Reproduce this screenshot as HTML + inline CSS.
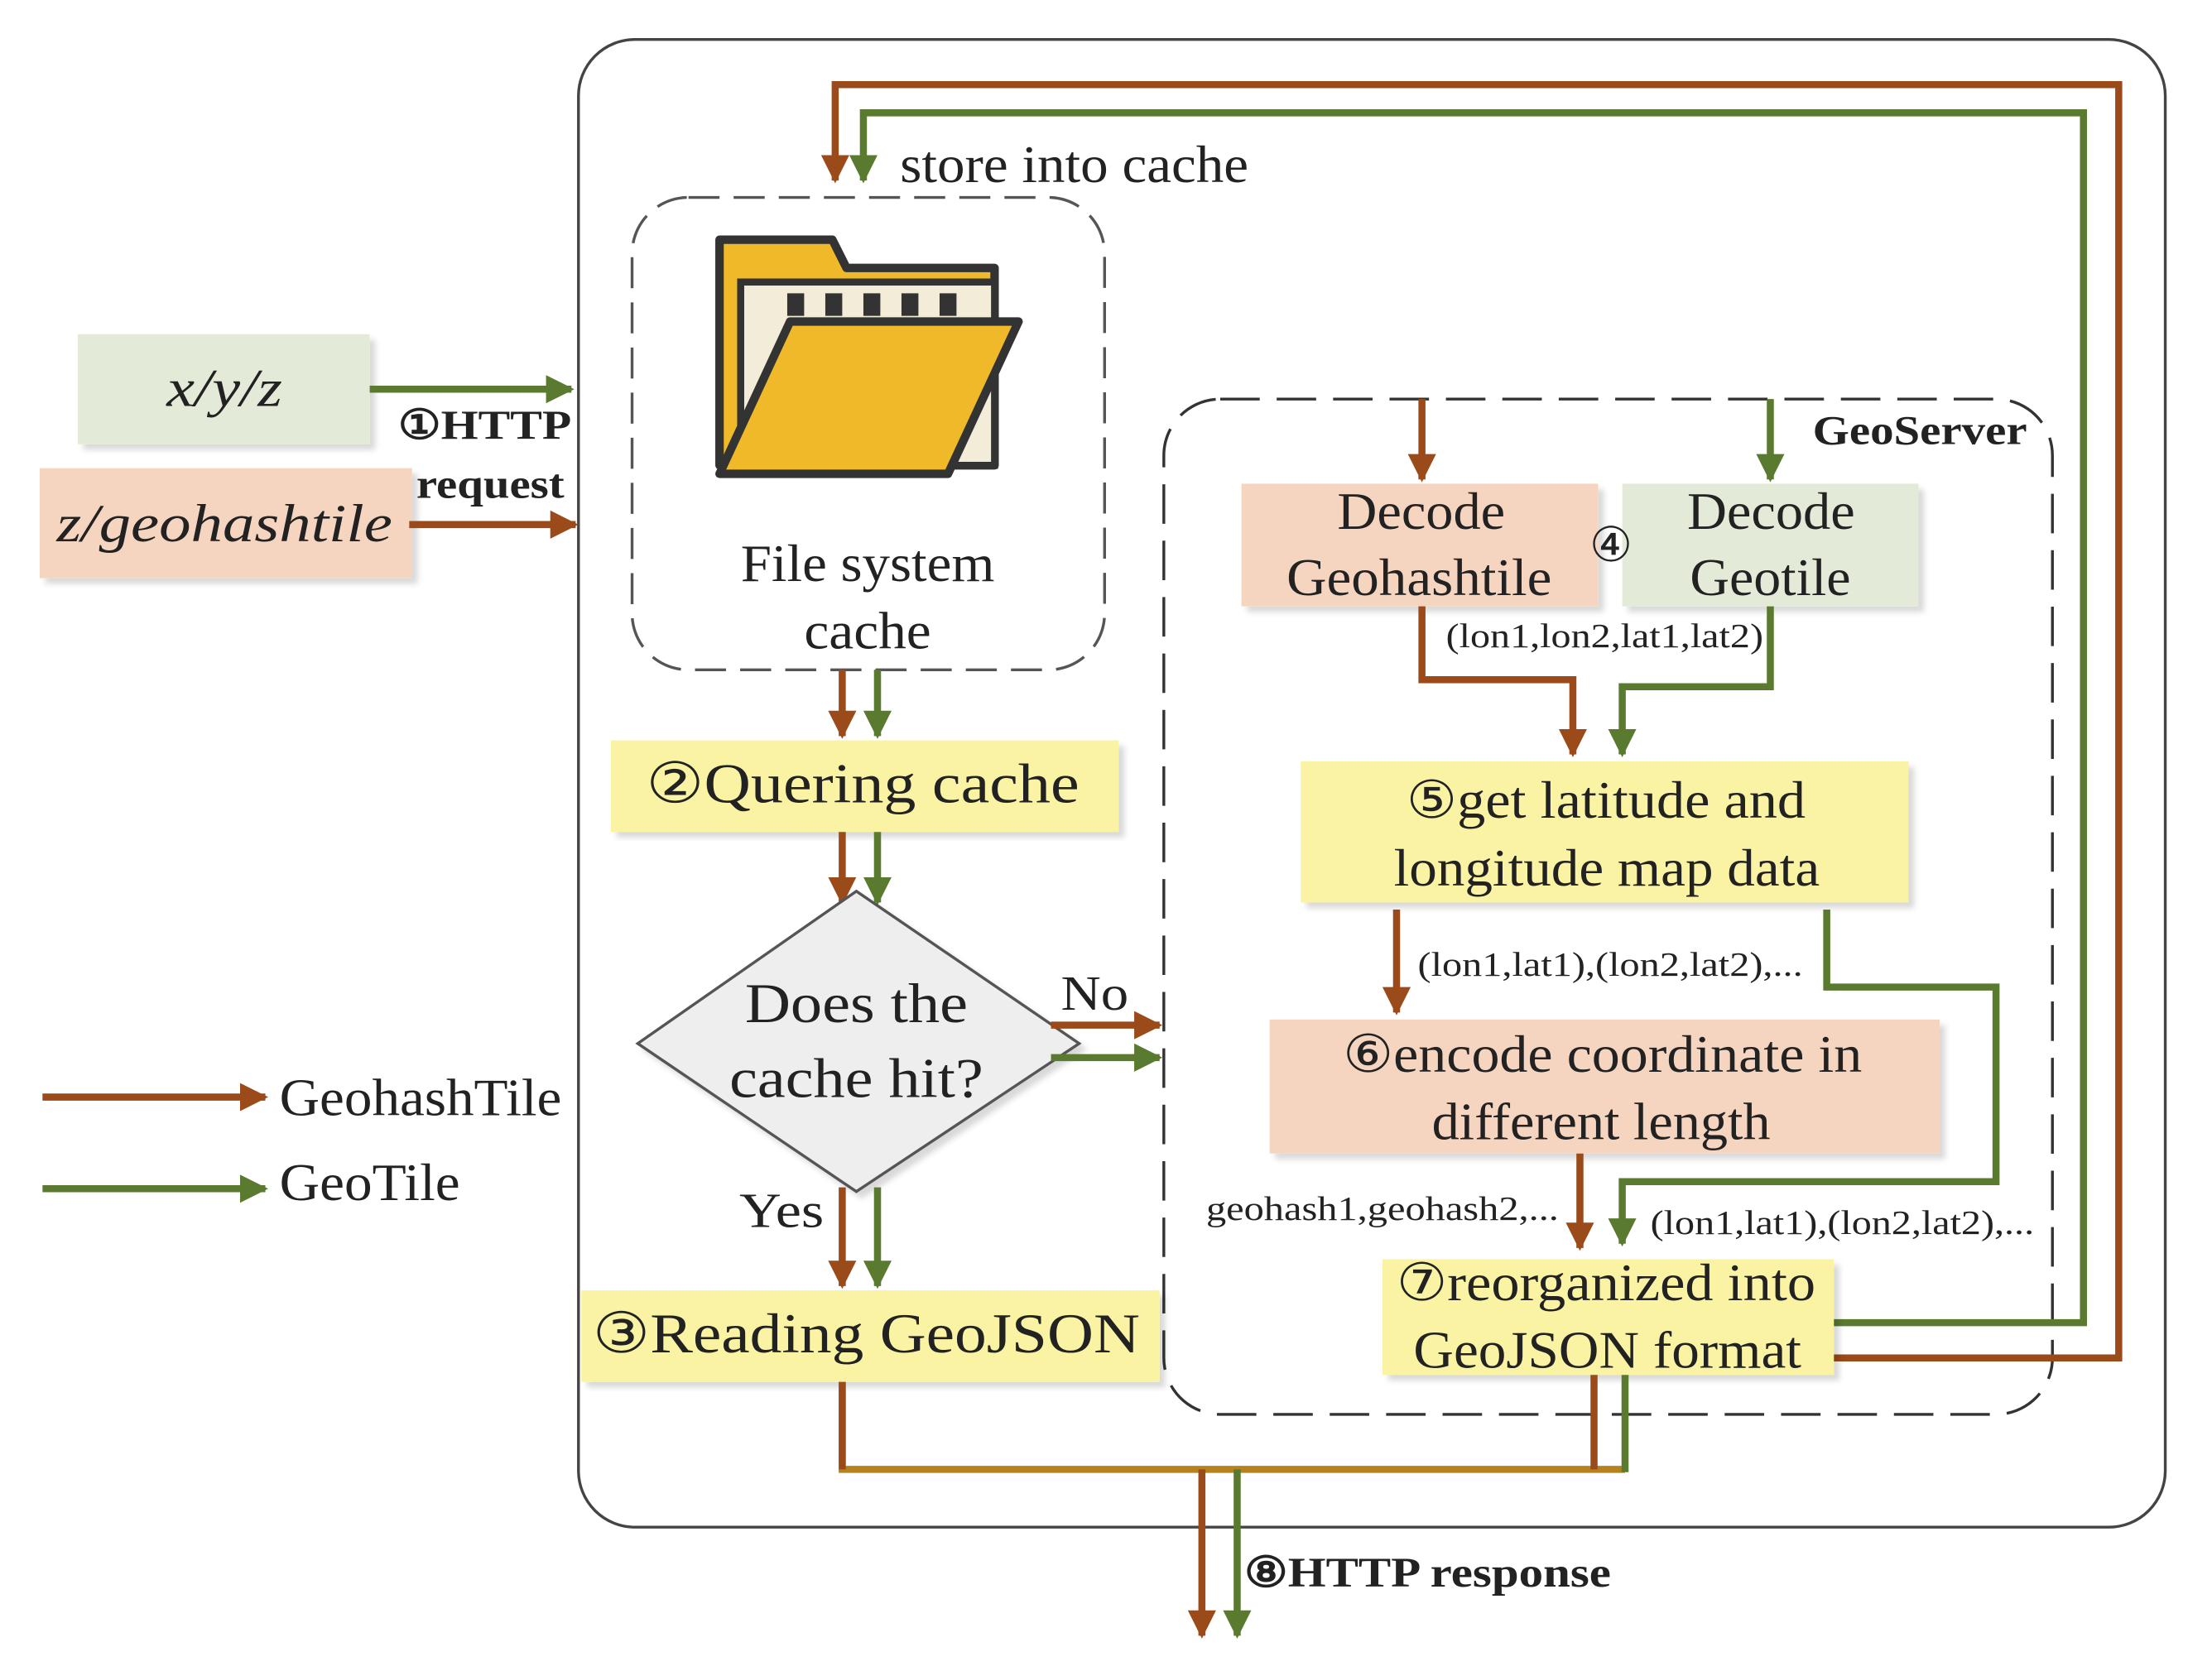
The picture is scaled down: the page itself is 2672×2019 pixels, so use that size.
<!DOCTYPE html>
<html><head><meta charset="utf-8"><style>
html,body{margin:0;padding:0;background:#fff;}
svg{display:block;}
text{font-family:"Liberation Serif",serif;fill:#222;}
</style></head><body>
<svg width="2672" height="2019" viewBox="0 0 1568 1185" xmlns="http://www.w3.org/2000/svg">
<defs>
<marker id="b" viewBox="0 0 10 10" refX="9" refY="5" markerWidth="4" markerHeight="4" orient="auto"><path d="M0,0L10,5L0,10z" fill="#9b4a1a"/></marker>
<marker id="g" viewBox="0 0 10 10" refX="9" refY="5" markerWidth="4" markerHeight="4" orient="auto"><path d="M0,0L10,5L0,10z" fill="#5a7a30"/></marker>
<filter id="sh"><feDropShadow dx="4" dy="4" stdDeviation="2" flood-color="#000" flood-opacity="0.15"/></filter>
</defs>
<rect width="1568" height="1185" fill="#fff"/>
<rect x="410" y="28" width="1125" height="1055" rx="40" fill="none" stroke="#444" stroke-width="2"/>
<rect x="448" y="140" width="335" height="335" rx="40" fill="none" stroke="#555" stroke-width="2" stroke-dasharray="22,10"/>
<rect x="825" y="283" width="630" height="720" rx="40" fill="none" stroke="#333" stroke-width="2" stroke-dasharray="28,12"/>

<path d="M510,170 L590,170 L600,190 L705,190 L705,330 L510,330 Z" fill="#f0b92a" stroke="#333" stroke-width="6" stroke-linejoin="round"/>
<rect x="525" y="200" width="180" height="130" fill="#f3ecd8" stroke="#333" stroke-width="5"/>
<g fill="#333"><rect x="558" y="208" width="12" height="16"/><rect x="585" y="208" width="12" height="16"/><rect x="612" y="208" width="12" height="16"/><rect x="639" y="208" width="12" height="16"/><rect x="666" y="208" width="12" height="16"/></g>
<path d="M510,336 L560,228 L722,228 L672,336 Z" fill="#f0b92a" stroke="#333" stroke-width="6" stroke-linejoin="round"/>
<text x="525" y="412" font-size="37" textLength="180" lengthAdjust="spacingAndGlyphs">File system</text>
<text x="570" y="460" font-size="37" textLength="90" lengthAdjust="spacingAndGlyphs">cache</text>

<rect x="55" y="237" width="207" height="78" fill="#e3ead8" filter="url(#sh)"/>
<text x="118" y="288" font-size="38" font-style="italic" textLength="82" lengthAdjust="spacingAndGlyphs">x/y/z</text>
<rect x="28" y="332" width="264" height="78" fill="#f6d5c0" filter="url(#sh)"/>
<text x="40" y="384" font-size="38" font-style="italic" textLength="238" lengthAdjust="spacingAndGlyphs">z/geohashtile</text>
<line x1="262" y1="276" x2="405" y2="276" stroke="#5a7a30" stroke-width="5" marker-end="url(#g)"/>
<line x1="290" y1="372" x2="408" y2="372" stroke="#9b4a1a" stroke-width="5" marker-end="url(#b)"/>
<text x="282" y="311" font-size="29" font-weight="bold" textLength="123" lengthAdjust="spacingAndGlyphs">①HTTP</text>
<text x="295" y="353" font-size="29" font-weight="bold" textLength="105" lengthAdjust="spacingAndGlyphs">request</text>

<line x1="30" y1="778" x2="188" y2="778" stroke="#9b4a1a" stroke-width="5" marker-end="url(#b)"/>
<line x1="30" y1="843" x2="188" y2="843" stroke="#5a7a30" stroke-width="5" marker-end="url(#g)"/>
<text x="198" y="791" font-size="37" textLength="200" lengthAdjust="spacingAndGlyphs">GeohashTile</text>
<text x="198" y="851" font-size="37" textLength="128" lengthAdjust="spacingAndGlyphs">GeoTile</text>

<polyline points="1300,963 1502,963 1502,60 592,60 592,128" fill="none" stroke="#9b4a1a" stroke-width="5" marker-end="url(#b)"/>
<polyline points="1300,938 1477,938 1477,80 612,80 612,128" fill="none" stroke="#5a7a30" stroke-width="5" marker-end="url(#g)"/>
<text x="638" y="129" font-size="37" textLength="247" lengthAdjust="spacingAndGlyphs">store into cache</text>

<line x1="597" y1="475" x2="597" y2="522" stroke="#9b4a1a" stroke-width="5" marker-end="url(#b)"/>
<line x1="622" y1="475" x2="622" y2="522" stroke="#5a7a30" stroke-width="5" marker-end="url(#g)"/>
<rect x="433" y="525" width="360" height="65" fill="#fbf3a4" filter="url(#sh)"/>
<text x="458" y="569" font-size="40" textLength="307" lengthAdjust="spacingAndGlyphs">②Quering cache</text>
<line x1="597" y1="590" x2="597" y2="640" stroke="#9b4a1a" stroke-width="5" marker-end="url(#b)"/>
<line x1="622" y1="590" x2="622" y2="640" stroke="#5a7a30" stroke-width="5" marker-end="url(#g)"/>

<polygon points="607,632 765,740 607,845 452,740" fill="#eeeeee" stroke="#555" stroke-width="2" filter="url(#sh)"/>
<text x="528" y="725" font-size="40" textLength="158" lengthAdjust="spacingAndGlyphs">Does the</text>
<text x="517" y="778" font-size="40" textLength="180" lengthAdjust="spacingAndGlyphs">cache hit?</text>
<line x1="745" y1="727" x2="822" y2="727" stroke="#9b4a1a" stroke-width="5" marker-end="url(#b)"/>
<line x1="745" y1="750" x2="822" y2="750" stroke="#5a7a30" stroke-width="5" marker-end="url(#g)"/>
<text x="752" y="716" font-size="35" textLength="48" lengthAdjust="spacingAndGlyphs">No</text>
<text x="524" y="870" font-size="35" textLength="60" lengthAdjust="spacingAndGlyphs">Yes</text>
<line x1="597" y1="842" x2="597" y2="912" stroke="#9b4a1a" stroke-width="5" marker-end="url(#b)"/>
<line x1="622" y1="842" x2="622" y2="912" stroke="#5a7a30" stroke-width="5" marker-end="url(#g)"/>
<rect x="412" y="915" width="410" height="65" fill="#fbf3a4" filter="url(#sh)"/>
<text x="420" y="959" font-size="40" textLength="388" lengthAdjust="spacingAndGlyphs">③Reading GeoJSON</text>

<text x="1285" y="315" font-size="29" font-weight="bold" textLength="152" lengthAdjust="spacingAndGlyphs">GeoServer</text>
<line x1="1008" y1="283" x2="1008" y2="340" stroke="#9b4a1a" stroke-width="5" marker-end="url(#b)"/>
<line x1="1255" y1="283" x2="1255" y2="340" stroke="#5a7a30" stroke-width="5" marker-end="url(#g)"/>
<rect x="880" y="343" width="253" height="87" fill="#f6d5c0" filter="url(#sh)"/>
<text x="948" y="375" font-size="37" textLength="119" lengthAdjust="spacingAndGlyphs">Decode</text>
<text x="912" y="422" font-size="37" textLength="188" lengthAdjust="spacingAndGlyphs">Geohashtile</text>
<rect x="1150" y="343" width="210" height="87" fill="#e3ead8" filter="url(#sh)"/>
<text x="1196" y="375" font-size="37" textLength="119" lengthAdjust="spacingAndGlyphs">Decode</text>
<text x="1198" y="422" font-size="37" textLength="114" lengthAdjust="spacingAndGlyphs">Geotile</text>
<text x="1142" y="398" font-size="34" text-anchor="middle" font-weight="normal">④</text>
<text x="1025" y="459" font-size="24" textLength="225" lengthAdjust="spacingAndGlyphs">(lon1,lon2,lat1,lat2)</text>
<polyline points="1008,430 1008,482 1115,482 1115,535" fill="none" stroke="#9b4a1a" stroke-width="5" marker-end="url(#b)"/>
<polyline points="1255,430 1255,487 1150,487 1150,535" fill="none" stroke="#5a7a30" stroke-width="5" marker-end="url(#g)"/>
<rect x="922" y="540" width="431" height="100" fill="#fbf3a4" filter="url(#sh)"/>
<text x="997" y="580" font-size="37" textLength="283" lengthAdjust="spacingAndGlyphs">⑤get latitude and</text>
<text x="988" y="628" font-size="37" textLength="302" lengthAdjust="spacingAndGlyphs">longitude map data</text>
<line x1="990" y1="645" x2="990" y2="718" stroke="#9b4a1a" stroke-width="5" marker-end="url(#b)"/>
<text x="1005" y="692" font-size="24" textLength="273" lengthAdjust="spacingAndGlyphs">(lon1,lat1),(lon2,lat2),...</text>
<polyline points="1295,645 1295,700 1415,700 1415,838 1150,838 1150,882" fill="none" stroke="#5a7a30" stroke-width="5" marker-end="url(#g)"/>
<rect x="900" y="723" width="475" height="95" fill="#f6d5c0" filter="url(#sh)"/>
<text x="952" y="760" font-size="37" textLength="368" lengthAdjust="spacingAndGlyphs">⑥encode coordinate in</text>
<text x="1015" y="808" font-size="37" textLength="240" lengthAdjust="spacingAndGlyphs">different length</text>
<line x1="1120" y1="818" x2="1120" y2="885" stroke="#9b4a1a" stroke-width="5" marker-end="url(#b)"/>
<text x="855" y="865" font-size="24" textLength="250" lengthAdjust="spacingAndGlyphs">geohash1,geohash2,...</text>
<text x="1170" y="875" font-size="24" textLength="272" lengthAdjust="spacingAndGlyphs">(lon1,lat1),(lon2,lat2),...</text>
<rect x="980" y="893" width="320" height="82" fill="#fbf3a4" filter="url(#sh)"/>
<text x="990" y="922" font-size="37" textLength="297" lengthAdjust="spacingAndGlyphs">⑦reorganized into</text>
<text x="1002" y="970" font-size="37" textLength="275" lengthAdjust="spacingAndGlyphs">GeoJSON format</text>

<polyline points="597,980 597,1042 1152,1042" fill="none" stroke="#b5821e" stroke-width="5"/>
<line x1="597" y1="980" x2="597" y2="1042" stroke="#9b4a1a" stroke-width="5"/>
<line x1="1130" y1="975" x2="1130" y2="1042" stroke="#9b4a1a" stroke-width="5"/>
<line x1="1152" y1="975" x2="1152" y2="1044" stroke="#5a7a30" stroke-width="5"/>
<line x1="852" y1="1042" x2="852" y2="1160" stroke="#9b4a1a" stroke-width="5" marker-end="url(#b)"/>
<line x1="877" y1="1042" x2="877" y2="1160" stroke="#5a7a30" stroke-width="5" marker-end="url(#g)"/>
<text x="882" y="1125" font-size="30" font-weight="bold" textLength="260" lengthAdjust="spacingAndGlyphs">⑧HTTP response</text>
</svg>
</body></html>
